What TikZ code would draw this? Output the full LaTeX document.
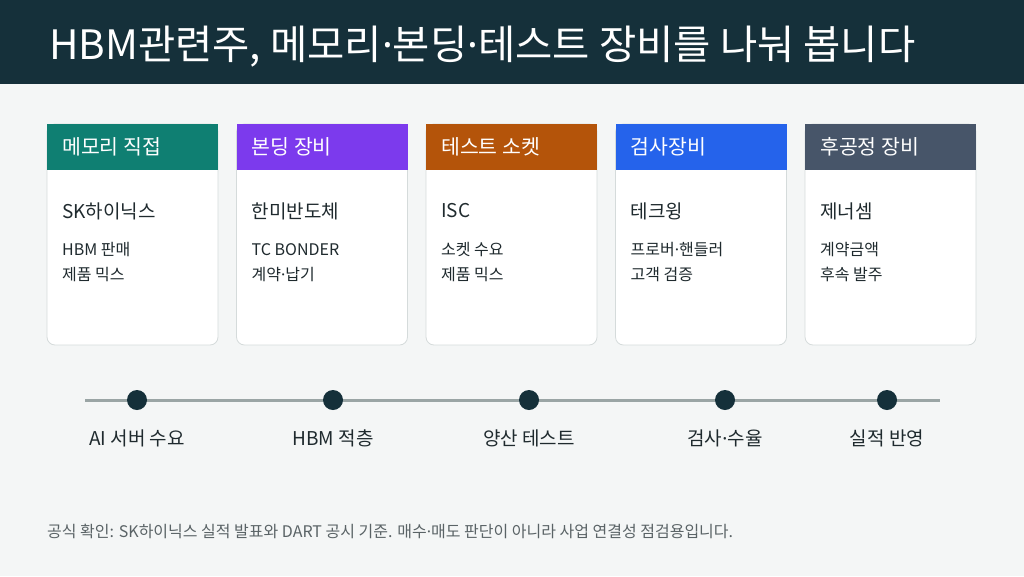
\documentclass[tikz,border=0pt]{standalone}
\usepackage{fontspec}
\setmainfont{Noto Sans CJK KR}
\newfontfamily\latinfont{Noto Sans}
\newcommand{\mdt}{{\latinfont ·}}
\usetikzlibrary{positioning}

\definecolor{titlebg}{HTML}{15303A}
\definecolor{pagebg}{HTML}{F4F6F6}
\definecolor{cardline}{HTML}{D5DBDB}
\definecolor{memcol}{HTML}{0F7F72}
\definecolor{bondcol}{HTML}{7C3AED}
\definecolor{testcol}{HTML}{B4540A}
\definecolor{inspcol}{HTML}{2563EB}
\definecolor{backcol}{HTML}{475569}
\definecolor{inktext}{HTML}{1F2A2E}
\definecolor{tracklin}{HTML}{9AA5A5}
\definecolor{notetext}{HTML}{5A6366}

\begin{document}
\begin{tikzpicture}[
    x=1pt, y=-1pt,
    card/.style={draw=cardline, fill=white, rounded corners=8pt, line width=0.8pt,
      minimum width=171pt, minimum height=221pt, inner sep=0pt},
    cardhead/.style={minimum width=171pt, minimum height=46pt, inner sep=0pt, anchor=north},
    headtext/.style={text=white, font=\fontsize{20.5}{22}\selectfont, anchor=west, inner sep=0pt},
    nametext/.style={text=inktext, font=\fontsize{19}{21}\selectfont, anchor=west, inner sep=0pt},
    subtext/.style={text=inktext, font=\fontsize{16}{25}\selectfont, anchor=west,
      align=left, inner sep=0pt},
    track/.style={draw=tracklin, line width=3pt},
    dot/.style={circle, fill=titlebg, minimum size=20pt, inner sep=0pt},
    steplabel/.style={text=inktext, font=\fontsize{19}{21}\selectfont, inner sep=0pt}
  ]

  % page and title bar
  \fill[pagebg] (0,0) rectangle (1024,576);
  \useasboundingbox (0,0) rectangle (1024,576);
  \fill[titlebg] (0,0) rectangle (1024,84);
  \node[text=white, font=\fontsize{40.5}{44}\selectfont, anchor=west, inner sep=0pt]
    (title) at (49,47) {HBM관련주, 메모리\mdt 본딩\mdt 테스트 장비를 나눠 봅니다};

  % cards
  \node[card] (c1) at (132.5,234.5) {};
  \node[cardhead, fill=memcol] (h1) at (c1.north) {};
  \node[headtext] (t1) at (62,147) {메모리 직접};
  \node[nametext] (n1) at (62,211) {SK하이닉스};
  \node[subtext] (s1) at (62,262.5) {HBM 판매\\제품 믹스};

  \node[card] (c2) at (322,234.5) {};
  \node[cardhead, fill=bondcol] (h2) at (c2.north) {};
  \node[headtext] (t2) at (251.5,147) {본딩 장비};
  \node[nametext] (n2) at (251.5,211) {한미반도체};
  \node[subtext] (s2) at (251.5,262.5) {TC BONDER\\계약\mdt 납기};

  \node[card] (c3) at (511.5,234.5) {};
  \node[cardhead, fill=testcol] (h3) at (c3.north) {};
  \node[headtext] (t3) at (441,147) {테스트 소켓};
  \node[nametext] (n3) at (441,211) {ISC};
  \node[subtext] (s3) at (441,262.5) {소켓 수요\\제품 믹스};

  \node[card] (c4) at (701,234.5) {};
  \node[cardhead, fill=inspcol] (h4) at (c4.north) {};
  \node[headtext] (t4) at (630.5,147) {검사장비};
  \node[nametext] (n4) at (630.5,211) {테크윙};
  \node[subtext] (s4) at (630.5,262.5) {프로버\mdt 핸들러\\고객 검증};

  \node[card] (c5) at (890.5,234.5) {};
  \node[cardhead, fill=backcol] (h5) at (c5.north) {};
  \node[headtext] (t5) at (820,147) {후공정 장비};
  \node[nametext] (n5) at (820,211) {제너셈};
  \node[subtext] (s5) at (820,262.5) {계약금액\\후속 발주};

  % timeline
  \coordinate (tl) at (85,400);
  \coordinate (tr) at (940,400);
  \draw[track] (tl) -- (tr);

  \node[dot] (d1) at (137,400) {};
  \node[dot] (d2) at (333,400) {};
  \node[dot] (d3) at (529,400) {};
  \node[dot] (d4) at (725,400) {};
  \node[dot] (d5) at (887,400) {};

  \node[steplabel] (l1) at (137,438) {AI 서버 수요};
  \node[steplabel] (l2) at (333,438) {HBM 적층};
  \node[steplabel] (l3) at (529,438) {양산 테스트};
  \node[steplabel] (l4) at (725,438) {검사\mdt 수율};
  \node[steplabel] (l5) at (887,438) {실적 반영};

  % note
  \node[text=notetext, font=\fontsize{16}{18}\selectfont, anchor=west, inner sep=0pt]
    (note) at (47,531) {공식 확인: SK하이닉스 실적 발표와 DART 공시 기준. 매수\mdt 매도 판단이 아니라 사업 연결성 점검용입니다.};

\end{tikzpicture}
\end{document}
